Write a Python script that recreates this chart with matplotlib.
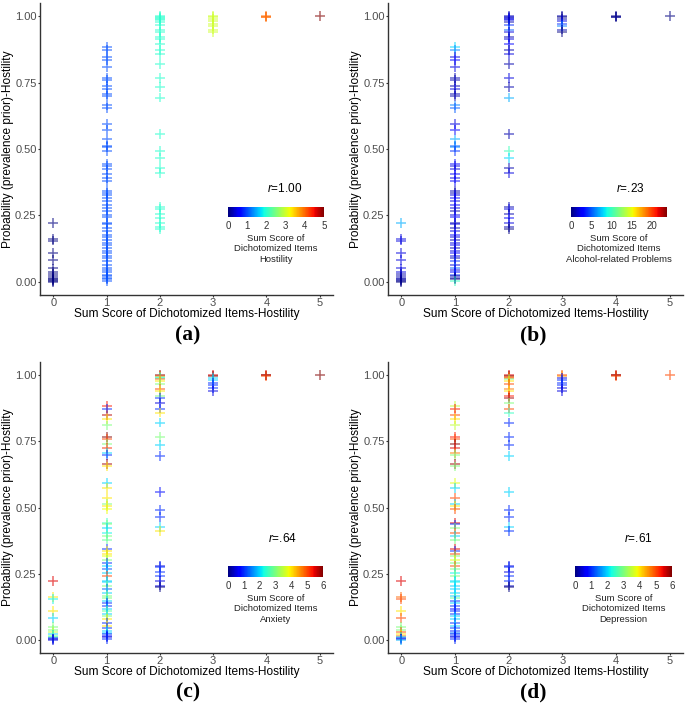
import matplotlib
matplotlib.use('Agg')
import numpy as np
import matplotlib.pyplot as plt
from matplotlib import cm, colors

plt.rcParams['font.family'] = 'Liberation Sans'
plt.rcParams['mathtext.fontset'] = 'custom'
plt.rcParams['mathtext.it'] = 'Liberation Sans:italic'
plt.rcParams['mathtext.rm'] = 'Liberation Sans'

# hostility sum score (x) and prevalence-prior probability (y), one list per x value
prob_x0 = [0.222, 0.162, 0.155, 0.108, 0.082, 0.05, 0.038, 0.028, 0.02, 0.015, 0.01, 0.005, 0.002, 0.0]
prob_x1 = [0.884, 0.874, 0.848, 0.836, 0.81, 0.768, 0.76, 0.739, 0.725, 0.707,
           0.70, 0.664, 0.655, 0.593, 0.573, 0.536, 0.513, 0.506, 0.494, 0.442,
           0.436, 0.423, 0.404, 0.391, 0.379, 0.343, 0.335, 0.326, 0.317, 0.303,
           0.29, 0.279, 0.268, 0.253, 0.242, 0.223, 0.217, 0.202, 0.192, 0.177,
           0.167, 0.159, 0.147, 0.138, 0.128, 0.117, 0.108, 0.098, 0.088, 0.079,
           0.064, 0.053, 0.044, 0.035, 0.027, 0.02, 0.015, 0.01, 0.003]
prob_x2 = [1.0, 0.998, 0.994, 0.99, 0.985, 0.98, 0.966, 0.949, 0.94, 0.922,
           0.915, 0.896, 0.874, 0.859, 0.821, 0.768, 0.735, 0.694, 0.558, 0.492,
           0.465, 0.427, 0.41, 0.28, 0.275, 0.255, 0.24, 0.221, 0.205, 0.2]
prob_x3 = [1.0, 0.998, 0.99, 0.982, 0.972, 0.962, 0.95, 0.941]
prob_x4 = [1.0, 0.999, 0.998]
prob_x5 = [1.0]

# alcohol-related problems sum score
alc_x0 = [7, 2, 2, 2, 2, 2, 2, 1, 1, 1, 1, 0.5, 0.5, 0]
alc_x1 = [8, 6, 2, 3, 2, 1, 1, 1, 2, 1,
          1, 6, 5, 2, 3, 7, 5, 6, 4, 3,
          2, 2, 3, 2, 3, 1, 1, 2, 3, 2,
          3, 2, 1, 2, 3, 1, 2, 1, 2, 3,
          2, 1, 2, 3, 1, 2, 3, 2, 1, 4,
          2, 5, 2, 3, 4, 1, 1, 0, 10]
alc_x2 = [1, 2, 1, 3, 2, 1, 4, 5, 2, 1, 2, 3, 1, 2, 1, 2, 1, 7, 1, 10,
          8, 1, 2, 1, 2, 1, 3, 2, 1, 0]
alc_x3 = [1, 0, 1, 2, 4, 6, 1, 0]
alc_x4 = [0, 1, 0]
alc_x5 = [0]

# anxiety sum score
anx_x0 = [5.5, 4, 2.2, 4, 2, 3, 3, 3.5, 2, 3, 2.5, 1, 0.5, 0.5]
anx_x1 = [5.3, 1, 5.7, 4, 3, 6, 5, 3, 5.2, 2,
          1, 5.8, 4, 2, 4, 4, 3, 4, 3.8, 2.5,
          3, 2, 2.2, 3, 2.8, 1, 4, 4, 3.8, 3,
          1, 2, 1.2, 2, 5, 2, 2, 3, 1.3, 2,
          3, 3, 2, 1, 1, 2, 2.8, 2, 3, 4,
          1, 4, 1, 2, 2, 1, 0.8, 0.5, 1]
anx_x2 = [6, 5, 3, 2.2, 4.8, 4, 3, 5, 4, 3, 1, 0.5, 1, 4, 2, 3, 2, 1, 0.8, 1,
          1, 2, 4, 0.5, 1, 1, 1, 0.5, 0.5, 0]
anx_x3 = [5.5, 6, 2, 2, 1, 1, 1, 0.5]
anx_x4 = [5.5, 6, 5]
anx_x5 = [6]

# depression sum score
dep_x0 = [5.5, 4.8, 5, 4, 5, 3, 3, 5, 4, 4.8, 2, 1, 0.5, 1.8]
dep_x1 = [3.5, 5.3, 5, 4, 3.5, 5.3, 5, 6, 5.5, 4.7,
          3, 5.8, 3, 3.7, 2, 5, 2, 4, 5, 5.5,
          1, 3, 5, 2, 3, 5.5, 1, 5, 3, 3.8,
          3, 5, 3, 2.2, 3, 2, 2.2, 2, 2, 2,
          2, 2.8, 1, 2, 1, 0.8, 1, 1, 2, 2,
          1, 2, 1, 1, 1.5, 1, 1, 0.5, 1]
dep_x2 = [5.5, 6, 4.8, 5, 3, 4, 5, 4.7, 4, 5.3, 5.8, 3, 5, 2.5, 1, 1, 1, 2, 2, 1,
          1, 2, 1, 0.5, 1, 0.5, 1, 1, 0.3, 0]
dep_x3 = [5, 4.5, 0.5, 1, 1, 1, 0.5, 0.5]
dep_x4 = [5.5, 6, 5]
dep_x5 = [5]

prob_cols = [prob_x0, prob_x1, prob_x2, prob_x3, prob_x4, prob_x5]
x_vals = np.concatenate([[i] * len(p) for i, p in enumerate(prob_cols)])
prob = np.concatenate(prob_cols)
hostility = x_vals.astype(float)
alcohol = np.concatenate([alc_x0, alc_x1, alc_x2, alc_x3, alc_x4, alc_x5])
anxiety = np.concatenate([anx_x0, anx_x1, anx_x2, anx_x3, anx_x4, anx_x5])
depression = np.concatenate([dep_x0, dep_x1, dep_x2, dep_x3, dep_x4, dep_x5])

panel_tags = ['(a)', '(b)', '(c)', '(d)']
r_texts = ['1.00', '.23', '.64', '.61']
legend_names = ['Hostility', 'Alcohol-related Problems', 'Anxiety', 'Depression']
color_vals = [hostility, alcohol, anxiety, depression]
color_max = [5, 23.7, 6, 6]
color_ticks = [[0, 1, 2, 3, 4, 5], [0, 5, 10, 15, 20], [0, 1, 2, 3, 4, 5, 6], [0, 1, 2, 3, 4, 5, 6]]

W, H = 685, 707
fig = plt.figure(figsize=(W / 100, H / 100), dpi=100)


def box(l, t, r, b):
    return [l / W, 1 - b / H, (r - l) / W, (b - t) / H]


ax_px = [(40, 3, 333, 295), (388, 3, 683, 295), (40, 362, 333, 653), (388, 362, 683, 653)]
cb_px = [(228, 207, 324, 217), (571, 207, 667, 217), (228, 566, 323, 577), (575, 566, 672, 577)]
r_pos = [(285, 188), (630, 188), (282, 538), (638, 538)]
tag_pos = [(188, 335), (533, 335), (188, 692), (533, 692)]

for k in range(4):
    ax = fig.add_axes(box(*ax_px[k]))
    norm = colors.Normalize(0, color_max[k])
    ax.scatter(x_vals, prob, c=color_vals[k], cmap='jet', norm=norm, marker='+',
               s=50, linewidths=1.1, alpha=0.6)
    ax.set_xlim(-0.25, 5.25)
    ax.set_ylim(-0.05, 1.05)
    ax.set_xticks([0, 1, 2, 3, 4, 5])
    ax.set_yticks([0, 0.25, 0.5, 0.75, 1.0])
    ax.set_yticklabels(['0.00', '0.25', '0.50', '0.75', '1.00'])
    for s in ['top', 'right']:
        ax.spines[s].set_visible(False)
    for s in ['left', 'bottom']:
        ax.spines[s].set_color('#333333')
        ax.spines[s].set_linewidth(1.0)
    ax.tick_params(length=1.5, width=0.8, color='#333333', pad=1,
                   labelsize=8, labelcolor='#4d4d4d')
    ax.set_xlabel('Sum Score of Dichotomized Items-Hostility', fontsize=8.6, labelpad=0)
    ax.set_ylabel('Probability (prevalence prior)-Hostility', fontsize=8.6, labelpad=1)

    cax = fig.add_axes(box(*cb_px[k]))
    sm = cm.ScalarMappable(norm=norm, cmap='jet')
    cb = fig.colorbar(sm, cax=cax, orientation='horizontal')
    cb.outline.set_visible(False)
    cb.set_ticks(color_ticks[k])
    cax.tick_params(length=0, pad=3, labelsize=7, labelcolor='#333333')
    cx = (cb_px[k][0] + cb_px[k][2]) / 2
    fig.text(cx / W, 1 - (cb_px[k][3] + 17) / H,
             'Sum Score of\nDichotomized Items\n' + legend_names[k],
             ha='center', va='top', fontsize=6.8, color='#222222', linespacing=1.2)

    fig.text(r_pos[k][0] / W, 1 - r_pos[k][1] / H, '$r$=' + r_texts[k],
             ha='center', va='center', fontsize=8.5)
    fig.text(tag_pos[k][0] / W, 1 - tag_pos[k][1] / H, panel_tags[k],
             ha='center', va='center', fontsize=15.5, fontweight='bold',
             family='Liberation Serif')

fig.savefig('out.png', dpi=100)
